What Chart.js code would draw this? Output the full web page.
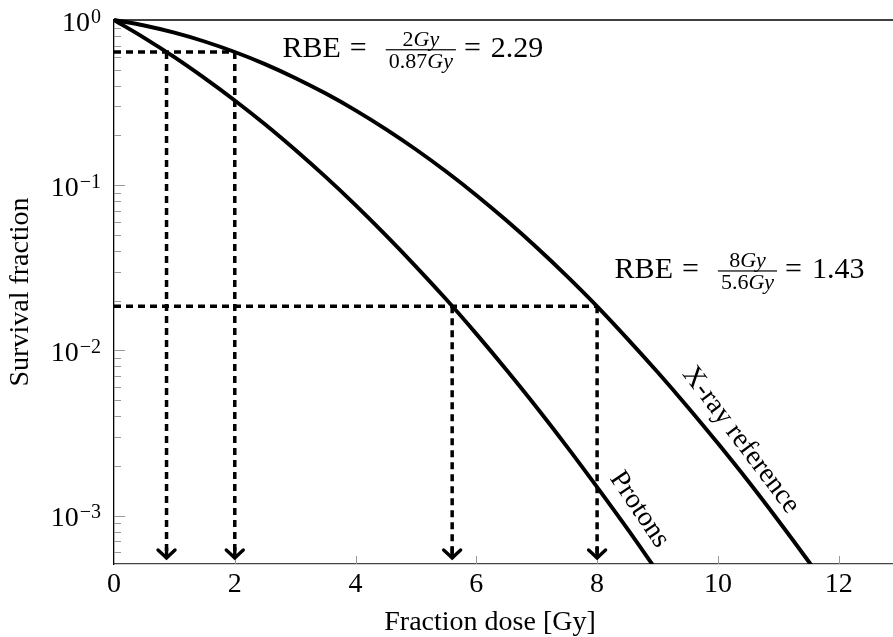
<!DOCTYPE html>
<html>
<head>
<meta charset="utf-8">
<script src="https://cdn.jsdelivr.net/npm/chart.js@4.4.1/dist/chart.umd.min.js"></script>
<style>
  html, body { margin: 0; padding: 0; background: #fff; }
  #wrap { width: 893px; height: 637px; }
</style>
</head>
<body>
<div id="wrap"><canvas id="survivalChart" width="893" height="637"></canvas></div>
<script>
// Dose grids (Gy) and survival fractions
const xrayDose = [0, 0.5, 1, 1.5, 2, 2.5, 3, 3.5, 4, 4.5, 5, 5.5, 6, 6.5, 7, 7.5, 8, 8.5, 9, 9.5, 10, 10.5, 11, 11.5, 12];
const xraySurvival = [1, 0.926, 0.838, 0.741, 0.640, 0.541, 0.446, 0.360, 0.284, 0.2185, 0.1645, 0.121, 0.0870,
  0.0611, 0.0420, 0.0282, 0.0185, 0.0118, 0.0074, 0.00455, 0.00274, 0.00162, 0.000935, 0.00053, 0.000295];
const protonDose = [0, 0.5, 1, 1.5, 2, 2.5, 3, 3.5, 4, 4.5, 5, 5.5, 6, 6.5, 7, 7.5, 8, 8.5, 9];
const protonSurvival = [1, 0.780, 0.596, 0.445, 0.326, 0.234, 0.164, 0.1127, 0.0758, 0.0499, 0.0322, 0.0204,
  0.0126, 0.00762, 0.00452, 0.00262, 0.00149, 0.000835, 0.000458];

// Iso-effect read-offs: same survival level, dose for each beam, resulting RBE
const refSurvival = [0.64, 0.0185];
const refDoseXray = [2, 8];
const refDoseProton = [0.87, 5.6];
const rbeValues = [2.29, 1.43];
const arrowTip = 5.55e-4;

// Axis ticks
const xTicks = [0, 2, 4, 6, 8, 10, 12];
const yExponents = [0, -1, -2, -3];

const X_MAX = 12.9, Y_MIN = 5.1e-4, Y_MAX = 1;
const serif = '"Liberation Serif", "Times New Roman", serif';

const toPoints = (xs, ys) => xs.map((x, i) => ({ x: x, y: ys[i] }));

const curveStyle = {
  borderColor: '#000', borderWidth: 3.9, pointRadius: 0, fill: false,
  cubicInterpolationMode: 'monotone', clip: { left: 5, top: 5, right: 0, bottom: 0 }
};
const guideStyle = {
  borderColor: '#000', borderWidth: 3.5, borderDash: [7, 5], pointRadius: 0, fill: false, tension: 0
};

const datasets = [
  Object.assign({ label: 'X-ray reference', data: toPoints(xrayDose, xraySurvival) }, curveStyle),
  Object.assign({ label: 'Protons', data: toPoints(protonDose, protonSurvival) }, curveStyle)
];
refSurvival.forEach((s, i) => {
  datasets.push(Object.assign({ data: [{ x: 0, y: s }, { x: refDoseXray[i], y: s }] }, guideStyle));
  datasets.push(Object.assign({ data: [{ x: refDoseXray[i], y: s }, { x: refDoseXray[i], y: arrowTip }] }, guideStyle));
  datasets.push(Object.assign({ data: [{ x: refDoseProton[i], y: s }, { x: refDoseProton[i], y: arrowTip }] }, guideStyle));
});

// draw a row of text pieces with different fonts, returns total width
function drawRuns(ctx, runs, x, y, measureOnly) {
  let w = 0;
  runs.forEach(r => {
    ctx.font = r.font;
    if (!measureOnly) ctx.fillText(r.text, x + w, y);
    w += ctx.measureText(r.text).width;
  });
  return w;
}

function drawRbe(ctx, i, x, y) {
  const big = '30px ' + serif, up = '22px ' + serif, it = 'italic 22px ' + serif;
  const num = [{ text: String(refDoseXray[i]), font: up }, { text: 'Gy', font: it }];
  const den = [{ text: String(refDoseProton[i]), font: up }, { text: 'Gy', font: it }];
  ctx.textAlign = 'left';
  ctx.textBaseline = 'alphabetic';
  let cx = x;
  cx += drawRuns(ctx, [{ text: 'RBE', font: big }], cx, y) + 9;
  cx += drawRuns(ctx, [{ text: '=', font: big }], cx, y) + 19;
  const numW = drawRuns(ctx, num, 0, 0, true), denW = drawRuns(ctx, den, 0, 0, true);
  const barW = Math.max(numW, denW) + 6;
  const barY = y - 7;
  ctx.fillRect(cx, barY - 0.5, barW, 1.2);
  drawRuns(ctx, num, cx + (barW - numW) / 2, barY - 4);
  drawRuns(ctx, den, cx + (barW - denW) / 2, barY + 18);
  cx += barW + 8;
  cx += drawRuns(ctx, [{ text: '=', font: big }], cx, y) + 10;
  drawRuns(ctx, [{ text: rbeValues[i].toFixed(2), font: big }], cx, y);
}

const decorations = {
  id: 'decorations',
  beforeDatasetsDraw(chart) {
    const { ctx, chartArea: a, scales: { x, y } } = chart;
    ctx.save();
    // frame top line
    ctx.strokeStyle = '#000';
    ctx.lineWidth = 1.3;
    ctx.beginPath();
    ctx.moveTo(a.left, a.top);
    ctx.lineTo(a.right, a.top);
    ctx.stroke();
    // inward tick marks
    ctx.strokeStyle = '#999';
    ctx.lineWidth = 1;
    ctx.beginPath();
    xTicks.forEach(v => {
      if (v === 0) return;
      const px = Math.round(x.getPixelForValue(v)) + 0.5;
      ctx.moveTo(px, a.bottom);
      ctx.lineTo(px, a.bottom - 8);
    });
    for (let e = -4; e <= 0; e++) {
      for (let m = 1; m <= 9; m++) {
        const v = m * Math.pow(10, e);
        if (v < Y_MIN || v > Y_MAX) continue;
        const py = Math.round(y.getPixelForValue(v)) + 0.5;
        ctx.moveTo(a.left, py);
        ctx.lineTo(a.left + (m === 1 ? 11 : 7), py);
      }
    }
    ctx.stroke();
    ctx.restore();
  },
  afterDatasetsDraw(chart) {
    const { ctx, chartArea: a, scales: { x, y } } = chart;
    ctx.save();
    ctx.fillStyle = '#000';
    ctx.strokeStyle = '#000';

    // arrow heads at the foot of each vertical guide
    const tipY = y.getPixelForValue(arrowTip);
    ctx.lineWidth = 3.4;
    ctx.lineCap = 'round';
    refDoseXray.concat(refDoseProton).forEach(d => {
      const px = x.getPixelForValue(d);
      ctx.beginPath();
      ctx.moveTo(px, tipY - 10);
      ctx.lineTo(px, tipY);
      ctx.moveTo(px - 8.5, tipY - 8);
      ctx.quadraticCurveTo(px - 2, tipY - 2, px, tipY);
      ctx.quadraticCurveTo(px + 2, tipY - 2, px + 8.5, tipY - 8);
      ctx.stroke();
    });

    // y tick labels 10^n
    const expFont = '20px ' + serif, baseFont = '28px ' + serif;
    ctx.textAlign = 'right';
    ctx.textBaseline = 'alphabetic';
    yExponents.forEach(e => {
      const py = y.getPixelForValue(Math.pow(10, e));
      const expText = e < 0 ? '\u2212' + (-e) : String(e);
      ctx.font = expFont;
      ctx.fillText(expText, 101, py + 2.5);
      const ew = ctx.measureText(expText).width;
      ctx.font = baseFont;
      ctx.fillText('10', 101 - ew - 1, py + 10.5);
    });

    // RBE annotations
    drawRbe(ctx, 0, x.getPixelForValue(2.79), y.getPixelForValue(0.60));
    drawRbe(ctx, 1, x.getPixelForValue(8.29), y.getPixelForValue(0.0275));

    // curve labels along the lines
    ctx.font = '28px ' + serif;
    ctx.textAlign = 'center';
    ctx.textBaseline = 'middle';
    [['X-ray reference', 10.38, 2.87e-3, 53], ['Protons', 8.7, 1.09e-3, 56]].forEach(([t, vx, vy, ang]) => {
      ctx.save();
      ctx.translate(x.getPixelForValue(vx), y.getPixelForValue(vy));
      ctx.rotate(ang * Math.PI / 180);
      ctx.fillText(t, 0, 0);
      ctx.restore();
    });

    // axis titles
    ctx.textBaseline = 'alphabetic';
    ctx.fillText('Fraction dose [Gy]', 490, 630);
    ctx.save();
    ctx.translate(28, (a.top + a.bottom) / 2);
    ctx.rotate(-Math.PI / 2);
    ctx.fillText('Survival fraction', 0, 0);
    ctx.restore();
    ctx.restore();
  }
};

new Chart(document.getElementById('survivalChart').getContext('2d'), {
  type: 'line',
  data: { datasets: datasets },
  options: {
    responsive: false,
    animation: false,
    layout: { padding: { top: 20, left: 0, right: 0, bottom: 0 } },
    plugins: { legend: { display: false }, tooltip: { enabled: false } },
    scales: {
      x: {
        type: 'linear', min: 0, max: X_MAX,
        grid: { display: false },
        border: { color: '#444', width: 1.3 },
        ticks: { color: '#000', font: { family: serif, size: 28 }, padding: -4 },
        afterBuildTicks: s => { s.ticks = xTicks.map(v => ({ value: v })); },
        afterFit: s => { s.height = 73; }
      },
      y: {
        type: 'logarithmic', min: Y_MIN, max: Y_MAX,
        grid: { display: false },
        border: { color: '#000', width: 1.3 },
        ticks: { display: false },
        afterFit: s => { s.width = 114; }
      }
    }
  },
  plugins: [decorations]
});
</script>
</body>
</html>
